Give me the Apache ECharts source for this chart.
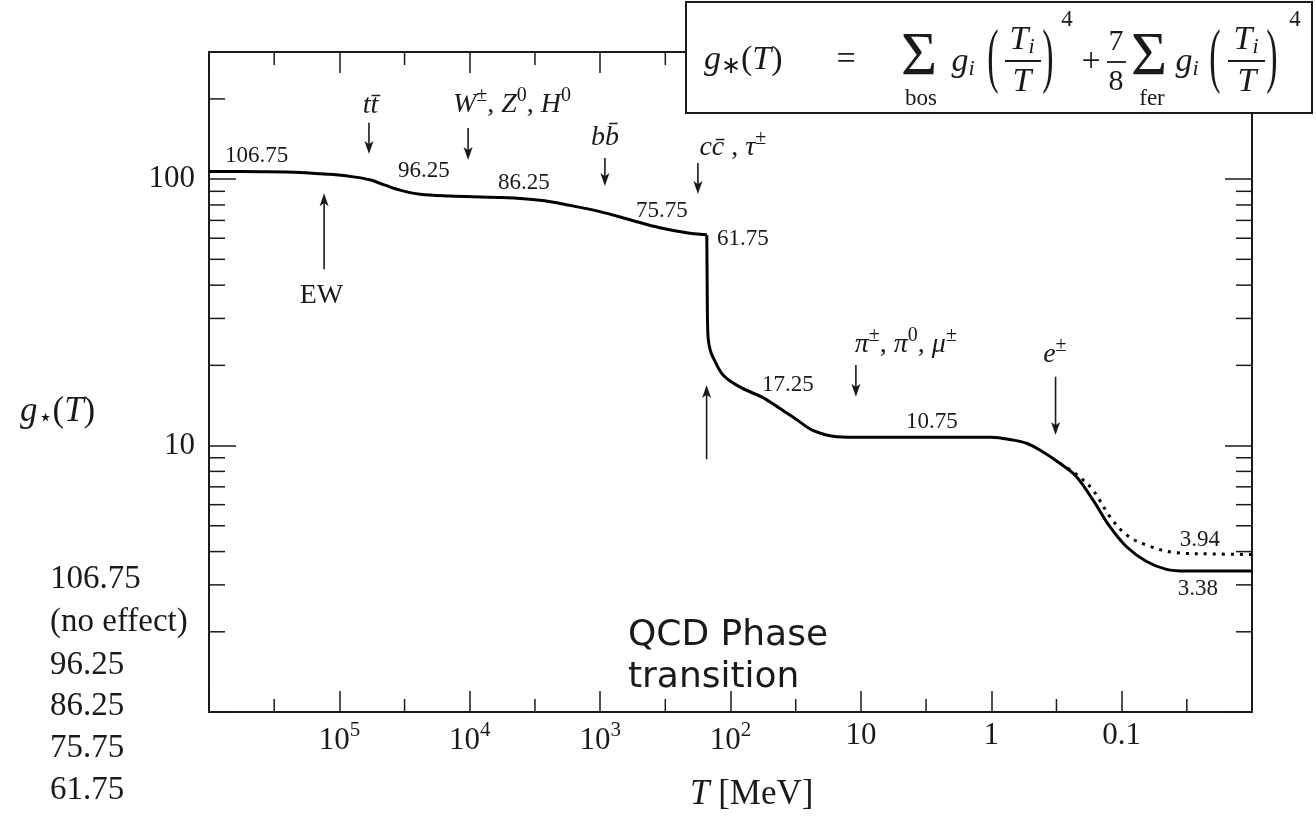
<!DOCTYPE html>
<html>
<head>
<meta charset="utf-8">
<title>g*(T)</title>
<script src="https://cdn.jsdelivr.net/npm/echarts@6/dist/echarts.min.js"></script>
<style>
  html, body { margin: 0; padding: 0; background: #fff; }
  #chart { width: 1316px; height: 818px; }
</style>
</head>
<body>
<div id="chart"></div>
<script>
// g*(T), T in MeV (solid curve)
const tempMeV = [1e6, 4e5, 2e5, 1.18e5, 8.3e4, 5.83e4, 4.47e4, 3.43e4, 2.41e4, 1.42e4,
  5870, 2895, 1705, 1004, 591, 348, 205, 154, 152, 151,
  150, 148, 143, 136.5, 114, 85, 56, 42, 31, 23.4,
  15.3, 9.7, 3, 1.0, 0.683, 0.536, 0.424, 0.298, 0.222, 0.166,
  0.123, 0.0917, 0.0644, 0.0453, 0.0318, 0.01];
const gStar = [106.75, 106.6, 106.0, 104.2, 102.4, 99.4, 94.9, 90.9, 87.7, 86.4,
  85.3, 83.3, 79.7, 75.5, 70.4, 65.7, 62.6, 61.8, 61.7, 40,
  29, 25, 22.8, 21.5, 18.4, 16.6, 15.1, 13.8, 12.5, 11.4,
  10.8, 10.75, 10.75, 10.75, 10.49, 10.2, 9.62, 8.58, 7.64, 6.25,
  4.96, 4.17, 3.67, 3.43, 3.38, 3.38];
const QCD_INDEX = 18; // the curve breaks here (T ~ 150 MeV)

// dotted branch below the e+- step
const tempLow = [0.298, 0.222, 0.166, 0.123, 0.0917, 0.0644, 0.0379, 0.02, 0.01];
const gStarLow = [8.58, 7.8, 6.81, 5.41, 4.62, 4.23, 3.96, 3.92, 3.9];

// axis ranges and minor ticks
const T_MIN = 0.01, T_MAX = 1e6;
const G_MIN = 1, G_MAX = 300;
const xMinorTicks = [316228, 31623, 3162.3, 316.23, 31.623, 3.1623, 0.31623, 0.031623];
const yMinorTicks = [2, 3, 4, 5, 6, 7, 8, 9, 20, 30, 40, 50, 60, 70, 80, 90, 200];

// text notes, anchored at (T, g)
const noteText = ['{num|106.75}', '{num|96.25}', '{num|86.25}', '{num|75.75}', '{num|61.75}',
  '{num|17.25}', '{num|10.75}', '{num|3.94}', '{num|3.38}',
  '{m|tt\u0304}', '{m|W}{sp|\u00b1}{r|, }{m|Z}{sp|0}{r|, }{m|H}{sp|0}', '{m|bb\u0304}',
  '{m|cc\u0304}{r| , }{m|\u03c4}{sp|\u00b1}', '{r|EW}',
  '{m|\u03c0}{sp|\u00b1}{r|, }{m|\u03c0}{sp|0}{r|, }{m|\u03bc}{sp|\u00b1}', '{m|e}{sp|\u00b1}',
  '{q|QCD Phase}', '{q|transition}'];
const noteT = [4.32e5, 2.245e4, 3841, 335.8, 80.3, 36.3, 2.855, 0.02514, 0.02604,
  5.775e4, 4747, 919, 95.9, 1.372e5, 4.518, 0.3252, 612, 612];
const noteG = [122.1, 107.3, 96.7, 75.9, 59.8, 16.9, 12.26, 4.42, 2.894,
  188.1, 189.8, 142.7, 130.9, 36.4, 23.85, 21.88, 1.929, 1.342];

// arrows: T, g at tail, g at head
const arrowT = [1.31e5, 5.93e4, 1.03e4, 919, 177.8, 152.5, 10.92, 0.3212];
const arrowFrom = [45.9, 162.8, 155.6, 120.0, 114.9, 8.88, 20.06, 18.13];
const arrowTo = [88.5, 124.3, 118.0, 94.2, 87.9, 16.88, 15.26, 10.95];

const INK = '#1a1a1a';
const SERIF = 'Liberation Serif';

const noteRich = {
  num: { fontSize: 23, fontFamily: SERIF, fill: INK },
  m: { fontSize: 28, fontFamily: SERIF, fontStyle: 'italic', fill: INK },
  r: { fontSize: 28, fontFamily: SERIF, fill: INK },
  sp: { fontSize: 20, fontFamily: SERIF, fill: INK, padding: [0, 0, 18, 0] },
  q: { fontSize: 36, fontFamily: 'DejaVu Sans', fill: INK }
};

function renderNote(params, api) {
  const p = api.coord([api.value(0), api.value(1)]);
  const left = noteText[params.dataIndex].indexOf('{q|') === 0;
  return {
    type: 'text', x: p[0], y: p[1], silent: true,
    style: {
      text: noteText[params.dataIndex], rich: noteRich, fill: INK,
      align: left ? 'left' : 'center', verticalAlign: 'middle',
      textAlign: left ? 'left' : 'center', textVerticalAlign: 'middle'
    }
  };
}

function renderArrow(params, api) {
  const a = api.coord([api.value(0), api.value(1)]);
  const b = api.coord([api.value(0), api.value(2)]);
  const dir = b[1] > a[1] ? 1 : -1;
  const len = 13, half = 4.5;
  return {
    type: 'group', silent: true,
    children: [
      { type: 'line', shape: { x1: a[0], y1: a[1], x2: b[0], y2: b[1] - dir * len * 0.7 },
        style: { stroke: INK, lineWidth: 1.6 } },
      { type: 'polygon', shape: { points: [[b[0], b[1]], [b[0] - half, b[1] - dir * len],
          [b[0], b[1] - dir * len * 0.75], [b[0] + half, b[1] - dir * len]] },
        style: { fill: INK } }
    ]
  };
}

function renderYMinor(params, api) {
  const v = api.value(1);
  const l = api.coord([T_MAX, v]);
  const r = api.coord([T_MIN, v]);
  return {
    type: 'group', silent: true,
    children: [
      { type: 'line', shape: { x1: l[0], y1: l[1], x2: l[0] + 16, y2: l[1] }, style: { stroke: INK, lineWidth: 1.5 } },
      { type: 'line', shape: { x1: r[0] - 16, y1: r[1], x2: r[0], y2: r[1] }, style: { stroke: INK, lineWidth: 1.5 } }
    ]
  };
}

function renderXMinor(params, api) {
  const v = api.value(0);
  const b = api.coord([v, G_MIN]);
  const t = api.coord([v, G_MAX]);
  return {
    type: 'group', silent: true,
    children: [
      { type: 'line', shape: { x1: b[0], y1: b[1], x2: b[0], y2: b[1] - 13 }, style: { stroke: INK, lineWidth: 1.5 } },
      { type: 'line', shape: { x1: t[0], y1: t[1], x2: t[0], y2: t[1] + 13 }, style: { stroke: INK, lineWidth: 1.5 } }
    ]
  };
}

function xLabel(v) {
  const e = Math.round(Math.log10(v));
  if (e >= 6 || e <= -2) return '';
  if (e >= 2) return '{n|10}{s|' + e + '}';
  return '{n|' + (e === 1 ? '10' : e === 0 ? '1' : '0.1') + '}';
}

function yLabel(v) {
  const lg = Math.log10(v);
  const e = Math.round(lg);
  if (Math.abs(lg - e) > 1e-6 || e < 1) return '';
  return '{n|' + Math.pow(10, e) + '}';
}

const labelRich = {
  n: { fontSize: 31, fontFamily: SERIF, color: INK },
  s: { fontSize: 21, fontFamily: SERIF, color: INK, padding: [0, 0, 20, 0] }
};

function xAxisCfg(pos) {
  return {
    type: 'log', logBase: 10, min: T_MIN, max: T_MAX, inverse: true, position: pos,
    splitNumber: 8,
    axisLine: { show: true, lineStyle: { color: INK, width: 2 } },
    axisTick: { show: true, inside: true, length: 21, lineStyle: { color: INK, width: 1.5 } },
    axisLabel: { show: pos === 'bottom', interval: 0, margin: 8, formatter: xLabel, rich: labelRich },
    splitLine: { show: false }
  };
}

function yAxisCfg(pos) {
  return {
    type: 'log', logBase: 10, min: G_MIN, max: G_MAX, position: pos,
    splitNumber: 3,
    axisLine: { show: true, lineStyle: { color: INK, width: 2 } },
    axisTick: { show: true, inside: true, length: 27, lineStyle: { color: INK, width: 1.5 } },
    axisLabel: { show: pos === 'left', interval: 0, margin: 14, formatter: yLabel, rich: labelRich },
    splitLine: { show: false }
  };
}

// formula box and outside texts
const fRich = {
  m: { fontSize: 34, fontFamily: SERIF, fontStyle: 'italic', fill: INK },
  r: { fontSize: 34, fontFamily: SERIF, fill: INK },
  sb: { fontSize: 22, fontFamily: SERIF, fontStyle: 'italic', fill: INK, padding: [14, 0, 0, 0] },
  sbr: { fontSize: 24, fontFamily: SERIF, fill: INK, padding: [14, 0, 0, 0] },
  small: { fontSize: 23, fontFamily: SERIF, fill: INK },
  big: { fontSize: 62, fontFamily: SERIF, fill: INK },
  f: { fontSize: 30, fontFamily: SERIF, fill: INK },
  p: { fontSize: 23, fontFamily: SERIF, fill: INK },
  lc: { fontSize: 33, fontFamily: SERIF, fill: INK },
  an: { fontSize: 35, fontFamily: SERIF, fill: INK },
  ai: { fontSize: 35, fontFamily: SERIF, fontStyle: 'italic', fill: INK }
};

function ft(x, y, text, align, extra) {
  return Object.assign({
    type: 'text', x: x, y: y, z: 101, silent: true,
    style: { text: text, rich: fRich, fill: INK, align: align || 'center', verticalAlign: 'middle',
      textAlign: align || 'center', textVerticalAlign: 'middle' }
  }, extra || {});
}

function fbar(x1, x2, y) {
  return { type: 'line', z: 101, silent: true, shape: { x1: x1, y1: y, x2: x2, y2: y },
    style: { stroke: INK, lineWidth: 1.8 } };
}

const PAREN = { scaleY: 2.1 };

const graphics = [
  { type: 'rect', z: 100, silent: true, shape: { x: 686, y: 2, width: 626, height: 111 },
    style: { fill: '#fff', stroke: INK, lineWidth: 2 } },
  ft(704, 60, '{m|g}{sbr|\u2217}{r|(}{m|T}{r|)}', 'left'),
  ft(846, 60, '{r|=}'),
  ft(919, 58, '{big|\u03a3}'),
  ft(921, 99, '{small|bos}'),
  ft(963, 62, '{m|g}{sb|i}'),
  ft(993, 60, '{r|(}', 'center', PAREN),
  ft(1022, 40, '{m|T}{sb|i}'),
  fbar(1005, 1041, 61),
  ft(1022, 82, '{m|T}'),
  ft(1048, 60, '{r|)}', 'center', PAREN),
  ft(1067, 20, '{p|4}'),
  ft(1091, 62, '{r|+}'),
  ft(1116, 42, '{f|7}'),
  fbar(1107, 1126, 62),
  ft(1116, 82, '{f|8}'),
  ft(1149, 58, '{big|\u03a3}'),
  ft(1152, 99, '{small|fer}'),
  ft(1187, 62, '{m|g}{sb|i}'),
  ft(1215, 60, '{r|(}', 'center', PAREN),
  ft(1246, 40, '{m|T}{sb|i}'),
  fbar(1228, 1265, 61),
  ft(1247, 82, '{m|T}'),
  ft(1272, 60, '{r|)}', 'center', PAREN),
  ft(1295, 20, '{p|4}'),
  // axis names
  ft(20, 412, '{ai|g}{sbr|\u22c6}{an|(}{ai|T}{an|)}', 'left'),
  ft(690, 795, '{ai|T}{an| [MeV]}', 'left'),
  // stray column on the left
  ft(50, 579, '{lc|106.75}', 'left'),
  ft(50, 622, '{lc|(no effect)}', 'left'),
  ft(50, 665, '{lc|96.25}', 'left'),
  ft(50, 706, '{lc|86.25}', 'left'),
  ft(50, 748, '{lc|75.75}', 'left'),
  ft(50, 790, '{lc|61.75}', 'left')
];

const solidStyle = { color: '#000', width: 3 };
const pairs = tempMeV.map((t, i) => [t, gStar[i]]);

const chart = echarts.init(document.getElementById('chart'));
chart.setOption({
  animation: false,
  backgroundColor: '#fff',
  grid: { left: 209, right: 64, top: 52, bottom: 106 },
  xAxis: [xAxisCfg('bottom'), xAxisCfg('top')],
  yAxis: [yAxisCfg('left'), yAxisCfg('right')],
  graphic: { elements: graphics },
  series: [
    {
      name: 'g* above QCD', type: 'line', xAxisIndex: 0, yAxisIndex: 0,
      data: pairs.slice(0, QCD_INDEX + 1),
      showSymbol: false, smooth: 0.35,
      lineStyle: solidStyle, z: 5
    },
    {
      name: 'g* below QCD', type: 'line', xAxisIndex: 0, yAxisIndex: 0,
      data: pairs.slice(QCD_INDEX),
      showSymbol: false, smooth: 0.35,
      lineStyle: solidStyle, z: 5
    },
    {
      name: 'g* (alt)', type: 'line', xAxisIndex: 0, yAxisIndex: 0,
      data: tempLow.map((t, i) => [t, gStarLow[i]]),
      showSymbol: false, smooth: 0.35,
      lineStyle: { color: '#000', width: 3, type: [3, 6], cap: 'butt' }, z: 4
    },
    {
      type: 'custom', xAxisIndex: 0, yAxisIndex: 0, silent: true,
      data: yMinorTicks.map(v => [T_MAX, v]), renderItem: renderYMinor
    },
    {
      type: 'custom', xAxisIndex: 0, yAxisIndex: 0, silent: true,
      data: xMinorTicks.map(v => [v, G_MIN]), renderItem: renderXMinor
    },
    {
      type: 'custom', xAxisIndex: 0, yAxisIndex: 0, silent: true,
      data: arrowT.map((t, i) => [t, arrowFrom[i], arrowTo[i]]), renderItem: renderArrow
    },
    {
      type: 'custom', xAxisIndex: 0, yAxisIndex: 0, silent: true,
      data: noteT.map((t, i) => [t, noteG[i]]), renderItem: renderNote
    }
  ]
});
</script>
</body>
</html>
